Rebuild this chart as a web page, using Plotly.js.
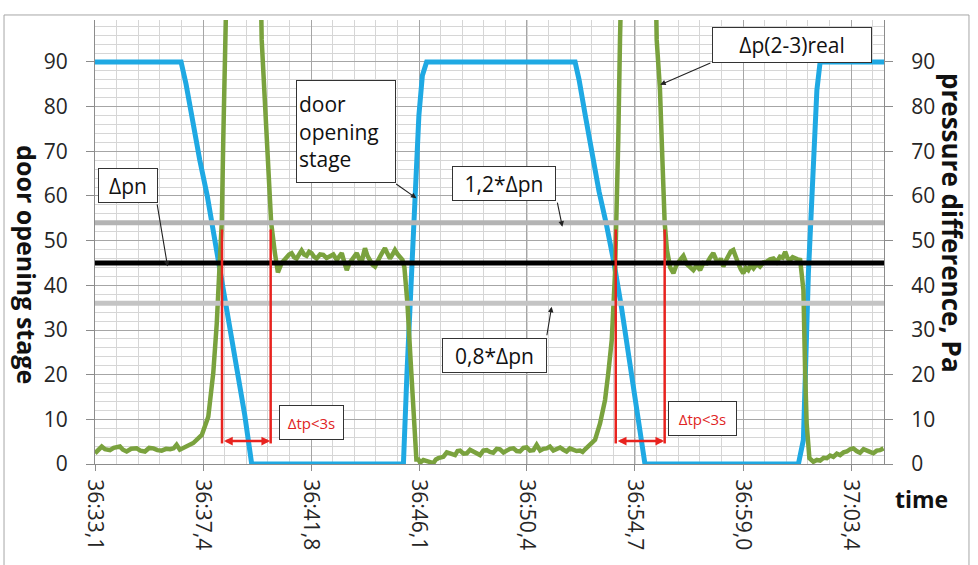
<!DOCTYPE html>
<html>
<head>
<meta charset="utf-8">
<script src="https://cdn.plot.ly/plotly-3.0.1.min.js"></script>
<style>html,body{margin:0;padding:0;background:#fff;}#chart{width:978px;height:565px;}</style>
</head>
<body>
<div id="chart"></div>
<script>
// ---- data ----
const tickTimes = [33.1, 37.43, 41.76, 46.09, 50.41, 54.74, 59.07, 63.4];
const tickLabels = ['36:33,1', '36:37,4', '36:41,8', '36:46,1', '36:50,4', '36:54,7', '36:59,0', '37:03,4'];

// door opening stage (left axis)
const doorT = [33.10, 36.55, 36.75, 37.00, 37.30, 37.60, 37.90, 38.20, 38.50, 38.80, 39.10, 39.38,
  45.46, 45.60, 45.74, 45.85, 45.95, 46.08, 46.22, 46.39,
  52.34, 52.50, 52.75, 53.00, 53.30, 53.60, 53.90, 54.20, 54.50, 54.80, 55.14,
  61.29, 61.36, 61.49, 61.69, 61.89, 62.03, 62.16, 64.72];
const doorV = [90, 90, 85, 77, 68, 60, 50.5, 40.5, 30, 21, 11, 0,
  0, 20, 38, 50, 60, 78, 87, 90,
  90, 86, 78, 70, 61, 53.5, 45, 35, 24, 13, 0,
  0, 2.5, 5.4, 42.7, 65, 83.7, 90, 90];

// Δp(2-3)real (right axis)
const dpT = [33.10, 33.22, 33.37, 33.50, 33.70, 33.85, 34.10, 34.22, 34.37, 34.55, 34.77, 34.92, 35.10, 35.27, 35.44, 35.60, 35.77, 35.95, 36.11, 36.25, 36.37, 36.50, 36.64,
  37.04, 37.38, 37.64, 37.84, 37.98, 38.11, 38.18, 38.24, 38.31, 38.40, 39.05, 39.72,
  39.78, 39.91, 40.05, 40.16, 40.31, 40.43, 40.58, 40.78,
  40.88, 40.98, 41.08, 41.18, 41.28, 41.38, 41.48, 41.58, 41.68, 41.78, 41.88, 41.98, 42.12, 42.25, 42.38, 42.52, 42.65, 42.79, 42.89, 42.99, 43.09, 43.19, 43.29, 43.39, 43.49, 43.59, 43.69, 43.79, 43.86, 43.92, 44.02, 44.12, 44.22, 44.32, 44.42, 44.52, 44.62, 44.72, 44.82, 44.92, 45.02, 45.12, 45.22, 45.32, 45.42,
  45.50, 45.62, 45.74, 45.86, 45.98,
  46.06, 46.13, 46.26, 46.39, 46.52, 46.66, 46.76, 46.86, 47.06, 47.20, 47.33, 47.53, 47.63, 47.73, 47.87, 48.00, 48.13, 48.26, 48.40, 48.53, 48.66, 48.80, 48.93, 49.06, 49.20, 49.33, 49.47, 49.60, 49.73, 49.87, 50.00, 50.13, 50.27, 50.40, 50.53, 50.67, 50.80, 50.94, 51.07, 51.20, 51.33, 51.47, 51.60, 51.74, 51.87, 52.00, 52.13, 52.27, 52.40, 52.54, 52.64, 52.74,
  52.94, 53.14, 53.34, 53.54, 53.67, 53.81, 53.94, 54.01, 54.07, 54.14, 54.22, 54.90, 55.55,
  55.61, 55.74, 55.84, 55.93, 56.02, 56.15, 56.28, 56.40, 56.55,
  56.68, 56.81, 56.95, 57.08, 57.22, 57.35, 57.48, 57.62, 57.75, 57.88, 57.98, 58.08, 58.18, 58.28, 58.38, 58.48, 58.58, 58.68, 58.78, 58.88, 58.98, 59.08, 59.18, 59.28, 59.38, 59.49, 59.62, 59.75, 59.88, 60.02, 60.15, 60.29, 60.42, 60.55, 60.66, 60.76, 60.86, 60.96, 61.06, 61.16, 61.26, 61.36,
  61.49, 61.56, 61.62, 61.73,
  61.89, 62.03, 62.16, 62.30, 62.43, 62.56, 62.69, 62.83, 62.96, 63.10, 63.23, 63.36, 63.49, 63.62, 63.76, 63.90, 64.03, 64.16, 64.29, 64.43, 64.56, 64.70];
const dpV = [2.4, 3.2, 3.9, 3.3, 3.1, 3.6, 3.9, 3.2, 2.8, 3.4, 3.5, 3.0, 2.8, 3.6, 3.5, 3.1, 3.0, 3.4, 3.3, 3.5, 4.3, 3.2, 3.6,
  4.7, 6.5, 10.6, 20.4, 31.5, 46.4, 53.9, 72.5, 95, 115, 140, 115,
  95, 80, 65, 54, 47.2, 42.9, 45.0, 46.4,
  46.9, 47.2, 46.3, 46.0, 47.1, 47.8, 46.9, 46.6, 47.5, 47.2, 46.4, 46.0, 46.9, 46.8, 46.1, 46.4, 46.9, 45.7, 46.6, 47.2, 45.2, 43.4, 44.9, 45.7, 46.8, 47.2, 45.9, 45.3, 47.0, 48.3, 46.6, 45.7, 44.6, 44.2, 45.6, 46.4, 47.4, 48.3, 47.1, 46.0, 46.9, 47.9, 47.0, 46.4, 45.7,
  44, 36, 24, 10, 1.0,
  1.0, 0.3, 0.9, 0.75, 0.4, 0.2, 1.0, 1.3, 1.6, 2.6, 2.4, 2.0, 2.9, 3.0, 2.3, 2.4, 3.2, 2.8, 2.3, 2.0, 3.0, 3.1, 2.7, 2.5, 3.4, 3.3, 2.6, 3.0, 3.4, 3.5, 2.9, 2.8, 3.6, 3.7, 3.0, 3.1, 4.3, 3.0, 3.4, 3.5, 3.9, 3.0, 3.3, 3.7, 3.2, 2.8, 3.5, 3.3, 2.9, 3.0, 2.7, 3.3,
  4.3, 5.4, 9.1, 14.3, 20.3, 27.8, 42.7, 57.6, 72.5, 95, 115, 140, 115,
  95, 84, 68, 54, 48, 44, 42.7, 44.5, 45.7,
  46.6, 44.8, 44.0, 43.4, 44.5, 43.4, 45.0, 44.9, 46.2, 47.2, 45.9, 44.9, 46.0, 44.2, 45.5, 46.4, 47.6, 47.9, 46.0, 44.9, 43.6, 42.7, 43.9, 43.4, 44.5, 43.8, 44.8, 44.2, 45.1, 45.3, 45.8, 46.0, 45.2, 46.4, 46.2, 47.5, 46.0, 45.7, 46.3, 46.0, 45.8, 45.7,
  39.0, 20.3, 9.1, 1.3,
  0.5, 0.9, 0.75, 1.4, 1.3, 1.9, 1.6, 2.3, 2.0, 2.6, 2.8, 3.3, 3.5, 2.9, 2.5, 3.3, 3.1, 2.7, 2.4, 3.0, 3.1, 3.5];

// reference pressure levels
const dpnNominal = 45;     // Δpn
const dpnUpper = 54;       // 1,2*Δpn
const dpnLower = 36;       // 0,8*Δpn

// Δtp intervals
const tpStart = [38.19, 53.97];
const tpEnd = [40.14, 55.93];
const tpTop = 52.5;
const tpBottom = 4.6;
const tpArrowLevel = 5.15;

// ---- layout helpers ----
const FONT = 'Open Sans, Liberation Sans, sans-serif';
const X0 = 33.1, X1 = 64.72, YMAX = 99.4;

const traces = [
  {x: doorT, y: doorV, type: 'scatter', mode: 'lines', yaxis: 'y', name: 'door opening stage',
   line: {color: '#1fa9e3', width: 5}, hoverinfo: 'skip'},
  {x: dpT, y: dpV, type: 'scatter', mode: 'lines', yaxis: 'y2', name: 'Δp(2-3)real',
   line: {color: '#7aa23e', width: 4.5}, hoverinfo: 'skip'}
];

const shapes = [
  // outer frame
  {type: 'rect', xref: 'paper', yref: 'paper', x0: -0.1153, x1: 1.1077, y0: -0.25, y1: 1.0113,
   line: {color: '#a6a6a6', width: 1}, layer: 'below'},
  {type: 'line', xref: 'paper', yref: 'y2', x0: 0, x1: 1, y0: dpnUpper, y1: dpnUpper, line: {color: '#b4b4b4', width: 5}, layer: 'above'},
  {type: 'line', xref: 'paper', yref: 'y2', x0: 0, x1: 1, y0: dpnLower, y1: dpnLower, line: {color: '#c4c4c4', width: 5}, layer: 'above'},
  {type: 'line', xref: 'paper', yref: 'y2', x0: 0, x1: 1, y0: dpnNominal, y1: dpnNominal, line: {color: '#000000', width: 5}, layer: 'above'}
];
tpStart.forEach((s, i) => {
  [s, tpEnd[i]].forEach(t => shapes.push({type: 'line', xref: 'x', yref: 'y2', x0: t, x1: t, y0: tpBottom, y1: tpTop,
    line: {color: '#e8231f', width: 2.5}, layer: 'above'}));
});

const boxStyle = {showarrow: false, bgcolor: '#ffffff', bordercolor: '#333333', borderwidth: 1, borderpad: 2,
  font: {family: FONT, size: 21, color: '#111111'}, xref: 'x', yref: 'y2', xanchor: 'center', yanchor: 'middle'};
const arrowStyle = {text: '', showarrow: true, arrowhead: 2, arrowsize: 1, arrowwidth: 1.1, arrowcolor: '#222222',
  xref: 'x', yref: 'y2'};

const annotations = [
  Object.assign({}, boxStyle, {x: 34.42, y: 62.35, text: 'Δpn', width: 54, height: 29}),
  Object.assign({}, boxStyle, {x: 43.16, y: 74.44, text: 'door<br>opening<br>stage', width: 94, height: 97, align: 'left', font: {family: FONT, size: 21, color: '#111'}}),
  Object.assign({}, boxStyle, {x: 49.49, y: 62.8, text: '1,2*Δpn', width: 98, height: 29}),
  Object.assign({}, boxStyle, {x: 49.11, y: 24.29, text: '0,8*Δpn', width: 99, height: 29}),
  Object.assign({}, boxStyle, {x: 61.04, y: 93.8, text: 'Δp(2-3)real', width: 154, height: 30}),
  Object.assign({}, boxStyle, {x: 41.76, y: 9.29, text: 'Δtp<3s', width: 59, height: 29, font: {family: FONT, size: 15, color: '#e02424'}}),
  Object.assign({}, boxStyle, {x: 57.45, y: 10.19, text: 'Δtp<3s', width: 63, height: 29, font: {family: FONT, size: 15, color: '#e02424'}}),
  Object.assign({}, arrowStyle, {x: 36.01, y: 44.2, ax: -10.7, ay: -63.7}),
  Object.assign({}, arrowStyle, {x: 45.98, y: 59.5, ax: -21.7, ay: -15.3}),
  Object.assign({}, arrowStyle, {x: 51.83, y: 53.1, ax: -5.3, ay: -25.7}),
  Object.assign({}, arrowStyle, {x: 51.40, y: 35.2, ax: -5, ay: 30}),
  Object.assign({}, arrowStyle, {x: 55.75, y: 84.9, ax: 51.7, ay: -22.3}),
  // axis titles
  {xref: 'paper', yref: 'paper', x: -0.0862, y: 0.448, text: '<b>door opening stage</b>', textangle: 90, showarrow: false,
   font: {family: FONT, size: 25, color: '#111'}, xanchor: 'center', yanchor: 'middle'},
  {xref: 'paper', yref: 'paper', x: 1.086, y: 0.543, text: '<b>pressure difference, Pa</b>', textangle: 90, showarrow: false,
   font: {family: FONT, size: 26, color: '#111'}, xanchor: 'center', yanchor: 'middle'},
  {xref: 'paper', yref: 'paper', x: 1.047, y: -0.079, text: '<b>time</b>', showarrow: false,
   font: {family: FONT, size: 23, color: '#111'}, xanchor: 'center', yanchor: 'middle'}
];
tpStart.forEach((s, i) => {
  annotations.push({xref: 'x', yref: 'y2', x: tpEnd[i] - 0.02, y: tpArrowLevel, axref: 'x', ayref: 'y2', ax: s + 0.02, ay: tpArrowLevel,
    text: '', showarrow: true, arrowside: 'end+start', arrowhead: 2, startarrowhead: 2, arrowsize: 0.7, startarrowsize: 0.7,
    arrowwidth: 2.5, arrowcolor: '#e8231f'});
});

const layout = {
  width: 978, height: 565, autosize: false,
  margin: {l: 95, r: 94, t: 20, b: 101, pad: 0},
  paper_bgcolor: '#ffffff', plot_bgcolor: '#ffffff',
  showlegend: false,
  font: {family: FONT, color: '#262626'},
  xaxis: {
    range: [X0, X1], tickmode: 'array', tickvals: tickTimes, ticktext: tickLabels, tickangle: 90,
    tickfont: {family: FONT, size: 21, color: '#262626'},
    ticks: 'outside', ticklen: 6, tickcolor: '#8c8c8c', ticklabelstandoff: 4,
    showgrid: true, gridcolor: '#a6a6a6', gridwidth: 1,
    minor: {tick0: 33.1, dtick: 0.86571, showgrid: true, gridcolor: '#d6d6d6', gridwidth: 1, ticks: ''},
    showline: true, linecolor: '#8c8c8c', linewidth: 1, zeroline: false
  },
  yaxis: {
    range: [0, YMAX], tick0: 0, dtick: 10,
    tickfont: {family: FONT, size: 21, color: '#262626'},
    ticks: 'outside', ticklen: 8, tickcolor: '#8c8c8c', ticklabelstandoff: 14,
    showgrid: true, gridcolor: '#a6a6a6', gridwidth: 1,
    minor: {tick0: 0, dtick: 2, showgrid: true, gridcolor: '#d6d6d6', gridwidth: 1, ticks: ''},
    showline: true, linecolor: '#8c8c8c', linewidth: 1, zeroline: false
  },
  yaxis2: {
    range: [0, YMAX], tick0: 0, dtick: 10, overlaying: 'y', side: 'right',
    tickfont: {family: FONT, size: 21, color: '#262626'},
    ticks: 'outside', ticklen: 8, tickcolor: '#8c8c8c', ticklabelstandoff: 14,
    showgrid: false, showline: true, linecolor: '#8c8c8c', linewidth: 1, zeroline: false
  },
  shapes: shapes,
  annotations: annotations
};

Plotly.newPlot('chart', traces, layout, {staticPlot: true, displayModeBar: false});
</script>
</body>
</html>
